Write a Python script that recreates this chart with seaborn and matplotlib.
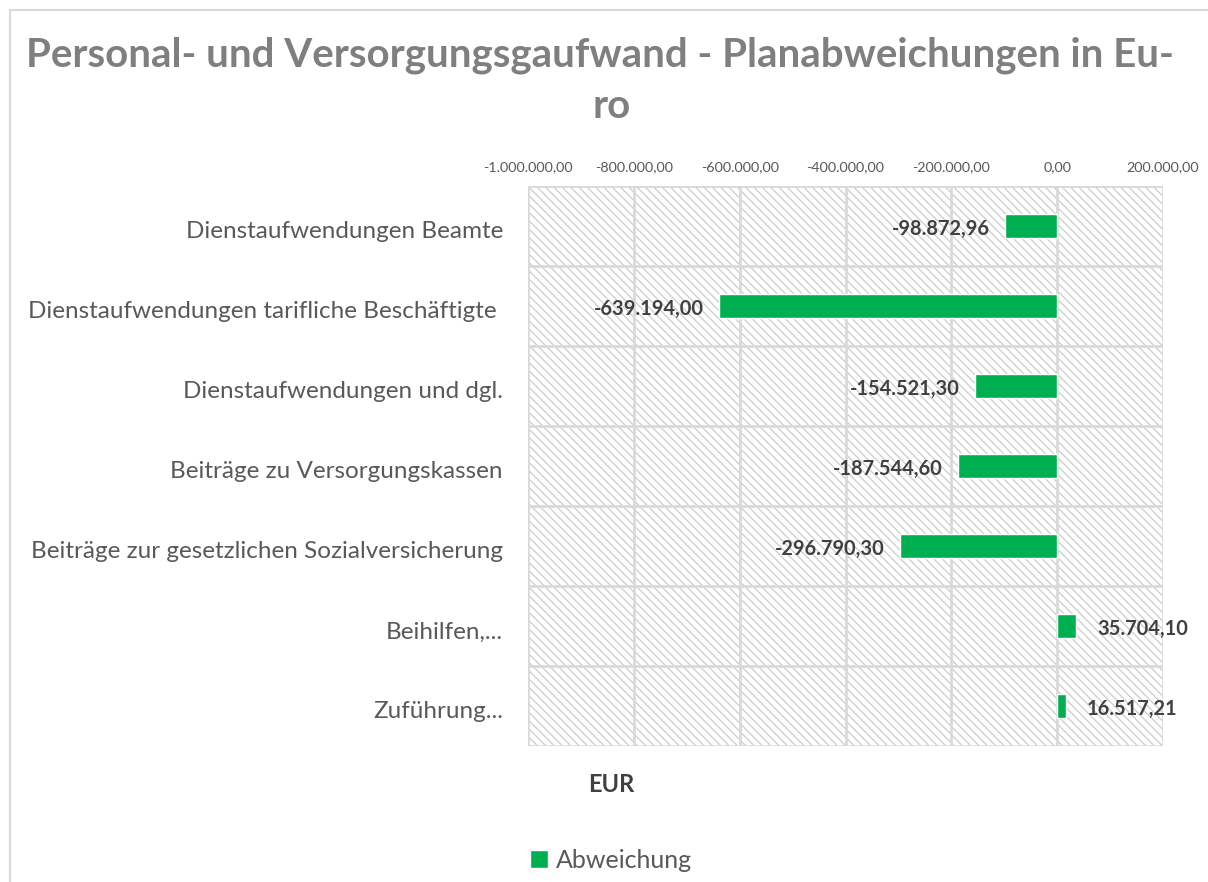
import pandas as pd
import matplotlib.pyplot as plt
import matplotlib.transforms as mtransforms
import numpy as np
import seaborn as sns
from matplotlib.patches import Rectangle, Patch

categories = [
    "Dienstaufwendungen Beamte",
    "Dienstaufwendungen tarifliche Beschäftigte ",
    "Dienstaufwendungen und dgl.",
    "Beiträge zu Versorgungskassen",
    "Beiträge zur gesetzlichen Sozialversicherung",
    "Beihilfen,...",
    "Zuführung...",
]
abweichung = [-98872.96, -639194.00, -154521.30, -187544.60, -296790.30, 35704.10, 16517.21]
xticks = [-1000000, -800000, -600000, -400000, -200000, 0, 200000]


def de_fmt(v):
    s = f"{v:,.2f}"
    return s.replace(",", "X").replace(".", ",").replace("X", ".")


df = pd.DataFrame({"Kategorie": categories, "Abweichung": abweichung})

sns.set_theme(style="white")
plt.rcParams['font.family'] = ['Lato', 'DejaVu Sans']
plt.rcParams['hatch.linewidth'] = 1.0

fig = plt.figure(figsize=(12.08, 8.82), dpi=100)
ax = fig.add_axes([528 / 1208, 1 - 746 / 882, 635 / 1208, 560 / 882])

# hatched background of the plot area
ax.add_patch(Rectangle((0, 0), 1, 1, transform=ax.transAxes, facecolor="white",
                       edgecolor="#d0d0d0", hatch="\\\\\\\\", linewidth=0, zorder=0))

sns.barplot(data=df, y="Kategorie", x="Abweichung", orient="h", color="#00b050",
            width=0.3, saturation=1, ax=ax, zorder=3)

ax.set_xlim(-1000000, 200000)
ax.set_ylim(len(categories) - 0.5, -0.5)
ax.xaxis.tick_top()
ax.set_xticks(xticks)
ax.set_xticklabels([de_fmt(t) for t in xticks], fontsize=10.4, color="#595959")
ax.set_yticks(range(len(categories)))
ax.set_yticklabels(categories, fontsize=17.5, color="#595959")
ax.tick_params(axis="y", length=0, pad=18)
ax.tick_params(axis="x", length=0, pad=9.5)
ax.set_xlabel("")
ax.set_ylabel("")

# Excel places the category labels a little below the bar centre
shift = mtransforms.ScaledTranslation(0, -4 / 100, fig.dpi_scale_trans)
for lbl in ax.get_yticklabels():
    lbl.set_transform(lbl.get_transform() + shift)

for t in xticks:
    ax.axvline(t, color="#d9d9d9", linewidth=2, zorder=1)
for b in np.arange(-0.5, len(categories), 1.0):
    ax.axhline(b, color="#d9d9d9", linewidth=2, zorder=1)
for s in ax.spines.values():
    s.set_visible(False)

for i, v in enumerate(abweichung):
    if v < 0:
        ax.annotate(de_fmt(v), (v, i), xytext=(-11, -2), textcoords="offset points",
                    ha="right", va="center", fontsize=14.4, fontweight="bold", color="#404040")
    else:
        ax.annotate(de_fmt(v), (v, i), xytext=(15, -2), textcoords="offset points",
                    ha="left", va="center", fontsize=14.4, fontweight="bold", color="#404040")

fig.text(600 / 1208, 1 - 55 / 882, "Personal- und Versorgungsgaufwand - Planabweichungen in Eu-",
         ha="center", va="center", fontsize=29, fontweight="bold", color="#7f7f7f")
fig.text(612 / 1208, 1 - 106 / 882, "ro",
         ha="center", va="center", fontsize=29, fontweight="bold", color="#7f7f7f")
fig.text(611 / 1208, 1 - 785 / 882, "EUR", ha="center", va="center", fontsize=17,
         fontweight="bold", color="#404040")

fig.legend(handles=[Patch(facecolor="#00b050", label="Abweichung")],
           loc="center", bbox_to_anchor=(611 / 1208, 1 - 860 / 882), frameon=False,
           fontsize=18, labelcolor="#595959", handlelength=0.7, handleheight=0.7,
           handletextpad=0.3)

fig.patches.append(Rectangle((10 / 1208, -0.1), 1.2, 1.1 - 10 / 882,
                             transform=fig.transFigure, fill=False,
                             edgecolor="#d9d9d9", linewidth=1.5))

fig.savefig("out.png", dpi=100)
